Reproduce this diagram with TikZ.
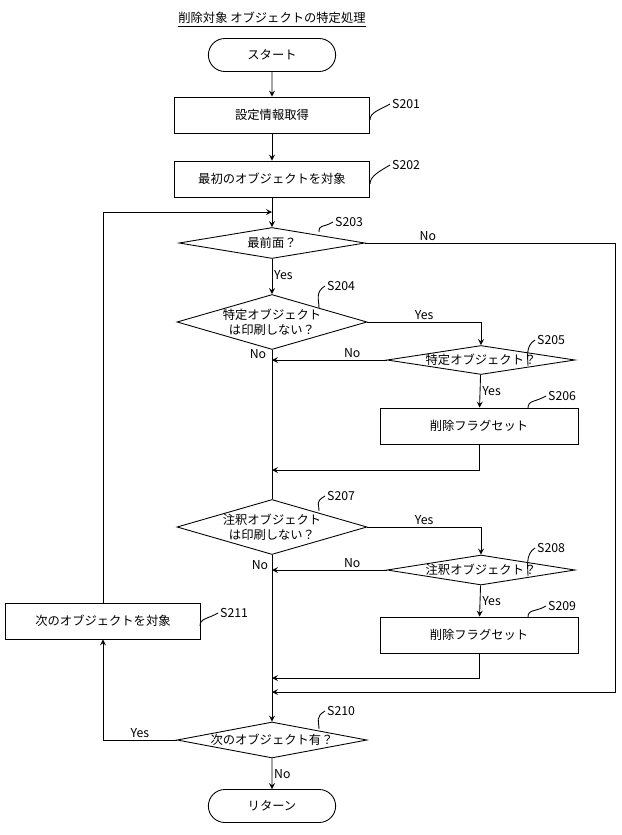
\documentclass[tikz,border=0pt]{standalone}
\usepackage{fontspec}
\setmainfont{Noto Sans CJK JP}
\usetikzlibrary{shapes.geometric,shapes.misc,positioning}
\begin{document}
\begin{tikzpicture}[x=0.02cm, y=-0.02cm, >=stealth, font=\fontsize{7}{8.5}\selectfont,
    every path/.style={line width=0.5pt},
    box/.style={draw, rectangle, minimum width=3.9cm, minimum height=0.72cm, inner sep=0pt},
    term/.style={draw, rounded rectangle, minimum width=2.78cm, minimum height=0.66cm},
    dec/.style={draw, diamond, inner sep=0pt},
    steplbl/.style={inner sep=1pt, anchor=west},
    lbl/.style={inner sep=1pt}]
  \useasboundingbox (0,0) rectangle (622,835);
  % title
  \node (title) at (272,20) {\underline{削除対象 オブジェクトの特定処理}};
  % blocks
  \node[term] (start) at (272,55) {スタート};
  \node[box] (S201) at (272,115) {設定情報取得};
  \node[box] (S202) at (272,179) {最初のオブジェクトを対象};
  \coordinate (m1) at (272,212);
  \node[dec, minimum width=3.72cm, minimum height=0.62cm] (S203) at (272,243) {};
  \node at (S203) {最前面？};
  \node[dec, minimum width=3.8cm, minimum height=1.1cm] (S204) at (272,322) {};
  \node[align=center] at (S204) {特定オブジェクト\\は印刷しない？};
  \node[dec, minimum width=3.76cm, minimum height=0.58cm] (S205) at (481,360) {};
  \node at (S205) {特定オブジェクト？};
  \node[box, minimum width=3.96cm] (S206) at (479,426) {削除フラグセット};
  \node[dec, minimum width=3.8cm, minimum height=1.1cm] (S207) at (272,527) {};
  \node[align=center] at (S207) {注釈オブジェクト\\は印刷しない？};
  \node[dec, minimum width=3.76cm, minimum height=0.6cm] (S208) at (481,570) {};
  \node at (S208) {注釈オブジェクト？};
  \node[box, minimum width=3.96cm] (S209) at (479,635) {削除フラグセット};
  \node[dec, minimum width=3.8cm, minimum height=0.72cm] (S210) at (272,740) {};
  \node at (S210) {次のオブジェクト有？};
  \node[term] (ret) at (272,806) {リターン};
  \node[box] (S211) at (103,621) {次のオブジェクトを対象};
  % step labels
  \foreach \n/\sx/\sy/\lx/\ly in {S201/370/120/392/104, S202/370/184/392/165,
      S203/319/232/335/222, S204/319/308/327/286, S205/528/366/537/340,
      S206/528/408/548/396, S207/319/511/327/496, S208/528/576/537/548,
      S209/528/617/548/606, S210/319/729/327/711, S211/200/626/220/613}
    \draw (\sx,\sy) .. controls (\sx,\sy-8) and (\lx-12,\ly+6) .. (\lx-2,\ly)
      node[steplbl] {\n};
  % flow
  \draw[->] (start) -- (S201);
  \draw[->] (S201) -- (S202);
  \draw[->] (S202) -- (S203);
  \draw[->] (S203) -- node[lbl, right, pos=0.45] {Yes} (S204);
  \draw (S204) -- (S207);
  \draw[->] (S207) -- (S210);
  \draw[->] (S210) -- node[lbl, right] {No} (ret);
  \draw[->] (S204.east) -| node[lbl, above, pos=0.25] {Yes} (S205.north);
  \draw[->] (S205.west) -- node[lbl, above, pos=0.3] {No} (S205.west -| S204.south);
  \draw[->] (S205) -- node[lbl, right] {Yes} (S206);
  \draw[->] (S206.south) |- (272,470);
  \draw[->] (S207.east) -| node[lbl, above, pos=0.25] {Yes} (S208.north);
  \draw[->] (S208.west) -- node[lbl, above, pos=0.3] {No} (S208.west -| S207.south);
  \draw[->] (S208) -- node[lbl, right] {Yes} (S209);
  \draw[->] (S209.south) |- (272,678);
  \draw[->] (S203.east) -- node[lbl, above, pos=0.25] {No} (615,243) |- (272,692);
  \draw[->] (S210.west) -| node[lbl, above, pos=0.25] {Yes} (S211.south);
  \draw[->] (S211.north) |- (m1);
  \node[lbl] at (258,354) {No};
  \node[lbl] at (260,565) {No};
\end{tikzpicture}
\end{document}
